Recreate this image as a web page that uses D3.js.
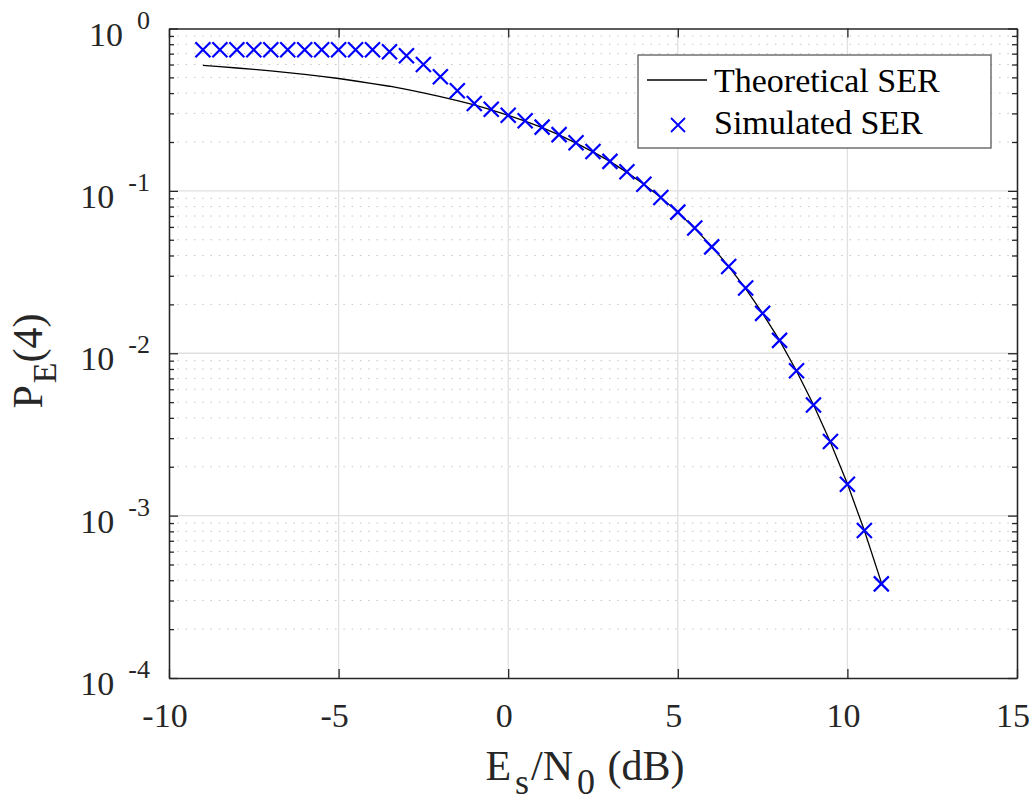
<!DOCTYPE html>
<html>
<head>
<meta charset="utf-8">
<script src="https://cdn.jsdelivr.net/npm/d3@7"></script>
<style>
  body { margin: 0; background: #fff; }
  svg text { font-family: "Liberation Serif", "Times New Roman", serif; fill: #262626; }
</style>
</head>
<body>
<div id="chart"></div>
<script>
// Es/N0 in dB
const snrDb = [-9, -8.5, -8, -7.5, -7, -6.5, -6, -5.5, -5, -4.5, -4, -3.5, -3, -2.5, -2, -1.5, -1, -0.5,
  0, 0.5, 1, 1.5, 2, 2.5, 3, 3.5, 4, 4.5, 5, 5.5, 6, 6.5, 7, 7.5, 8, 8.5, 9, 9.5, 10, 10.5, 11]

const theoreticalSer = [0.592, 0.582, 0.571, 0.560, 0.548, 0.535, 0.521, 0.507, 0.492, 0.475, 0.458,
  0.441, 0.422, 0.402, 0.381, 0.360, 0.338, 0.315, 0.292, 0.2685, 0.245, 0.221, 0.197, 0.174, 0.152,
  0.130, 0.110, 0.091, 0.074, 0.0587, 0.0455, 0.0343, 0.0250, 0.0176, 0.0120, 0.00778, 0.00482,
  0.00283, 0.00157, 0.00081, 0.000388]

const simulatedSer = [0.74, 0.74, 0.74, 0.74, 0.74, 0.74, 0.74, 0.74, 0.74, 0.74, 0.74,
  0.72, 0.68, 0.60, 0.505, 0.414, 0.345, 0.318, 0.292, 0.27, 0.247, 0.222, 0.198, 0.175, 0.152,
  0.131, 0.110, 0.091, 0.074, 0.059, 0.0452, 0.0342, 0.0252, 0.0176, 0.0120, 0.0078, 0.0048,
  0.00286, 0.00156, 0.00081, 0.00038]

const xTicks = [-10, -5, 0, 5, 10, 15]
const yExponents = [0, -1, -2, -3, -4]
const legendLabels = ["Theoretical SER", "Simulated SER"]

const width = 1034
const height = 803
const plotLeft = 169, plotRight = 1017, plotTop = 28.5, plotBottom = 678

const svg = d3.select("#chart")
  .append("svg")
  .attr("width", width)
  .attr("height", height)
  .attr("font-family", "'Liberation Serif', 'Times New Roman', serif")
  .style("background", "#fff")

const x = d3.scaleLinear().domain([-10, 15]).range([plotLeft, plotRight])
const y = d3.scaleLog().domain([1e-4, 1]).range([plotBottom, plotTop])

const yMajor = yExponents.map(e => Math.pow(10, e))
const yMinor = []
yExponents.slice(1).forEach(e => {
  for (let m = 2; m <= 9; m++) yMinor.push(m * Math.pow(10, e))
})

// grid
const grid = svg.append("g")
grid.selectAll(".minor")
  .data(yMinor)
  .enter().append("line")
  .attr("x1", plotLeft).attr("x2", plotRight)
  .attr("y1", d => y(d)).attr("y2", d => y(d))
  .attr("stroke", "#c4c4c4")
  .attr("stroke-width", 1)
  .attr("stroke-dasharray", "1.5,6.8")

grid.selectAll(".majy")
  .data(yMajor.slice(1, -1))
  .enter().append("line")
  .attr("x1", plotLeft).attr("x2", plotRight)
  .attr("y1", d => y(d)).attr("y2", d => y(d))
  .attr("stroke", "#e0e0e0")
  .attr("stroke-width", 1.3)

grid.selectAll(".majx")
  .data(xTicks.slice(1, -1))
  .enter().append("line")
  .attr("x1", d => x(d)).attr("x2", d => x(d))
  .attr("y1", plotTop).attr("y2", plotBottom)
  .attr("stroke", "#e0e0e0")
  .attr("stroke-width", 1.3)

// axes (ticks inward, box on all sides)
const axisColor = "#262626"
function styleAxis(g) {
  g.selectAll("path, line").attr("stroke", axisColor).attr("stroke-width", 1.3)
  g.selectAll("text").remove()
}
svg.append("g").attr("transform", `translate(0,${plotBottom})`)
  .call(d3.axisBottom(x).tickValues(xTicks).tickSizeInner(-9).tickSizeOuter(0).tickFormat(""))
  .call(styleAxis)
svg.append("g").attr("transform", `translate(0,${plotTop})`)
  .call(d3.axisTop(x).tickValues(xTicks).tickSizeInner(-9).tickSizeOuter(0).tickFormat(""))
  .call(styleAxis)
svg.append("g").attr("transform", `translate(${plotLeft},0)`)
  .call(d3.axisLeft(y).tickValues(yMajor).tickSizeInner(-9).tickSizeOuter(0).tickFormat(""))
  .call(styleAxis)
svg.append("g").attr("transform", `translate(${plotLeft},0)`)
  .call(d3.axisLeft(y).tickValues(yMinor).tickSizeInner(-5).tickSizeOuter(0).tickFormat(""))
  .call(styleAxis)
svg.append("g").attr("transform", `translate(${plotRight},0)`)
  .call(d3.axisRight(y).tickValues(yMajor).tickSizeInner(-9).tickSizeOuter(0).tickFormat(""))
  .call(styleAxis)
svg.append("g").attr("transform", `translate(${plotRight},0)`)
  .call(d3.axisRight(y).tickValues(yMinor).tickSizeInner(-5).tickSizeOuter(0).tickFormat(""))
  .call(styleAxis)

// tick labels
svg.append("g").selectAll("text")
  .data(xTicks)
  .enter().append("text")
  .attr("x", d => x(d) - 4)
  .attr("y", 727)
  .attr("text-anchor", "middle")
  .attr("font-size", 34)
  .text(d => d)

const yLab = svg.append("g").selectAll("text")
  .data(yExponents)
  .enter().append("text")
  .attr("x", 150)
  .attr("y", d => y(Math.pow(10, d)) + 17)
  .attr("text-anchor", "end")
  .attr("font-size", 34)
yLab.append("tspan").text("10")
yLab.append("tspan")
  .attr("dx", 14)
  .attr("dy", -17)
  .attr("font-size", 26)
  .text(d => d)

// theoretical line
const line = d3.line()
  .x((d, i) => x(snrDb[i]))
  .y(d => y(d))

svg.append("path")
  .datum(theoreticalSer)
  .attr("d", line)
  .attr("fill", "none")
  .attr("stroke", "#000")
  .attr("stroke-width", 1.3)

// simulated markers
const cross = "M-7.5,-7.5L7.5,7.5M-7.5,7.5L7.5,-7.5"
svg.append("g").selectAll("path")
  .data(simulatedSer)
  .enter().append("path")
  .attr("d", cross)
  .attr("transform", (d, i) => `translate(${x(snrDb[i])},${y(d)})`)
  .attr("stroke", "#0000ff")
  .attr("stroke-width", 2.2)
  .attr("fill", "none")

// axis labels
svg.append("text")
  .attr("x", 585)
  .attr("y", 780)
  .attr("text-anchor", "middle")
  .attr("font-size", 42)
  .call(t => {
    t.append("tspan").text("E")
    t.append("tspan").attr("dx", 4).attr("dy", 14).attr("font-size", 36).text("s")
    t.append("tspan").attr("dx", 2).attr("dy", -14).text("/N")
    t.append("tspan").attr("dx", 4).attr("dy", 14).attr("font-size", 36).text("0")
    t.append("tspan").attr("dx", 2).attr("dy", -14).text(" (dB)")
  })

svg.append("text")
  .attr("transform", "translate(42,361) rotate(-90)")
  .attr("text-anchor", "middle")
  .attr("font-size", 42)
  .call(t => {
    t.append("tspan").text("P")
    t.append("tspan").attr("dx", 2).attr("dy", 14).attr("font-size", 34).text("E")
    t.append("tspan").attr("dy", -14).text("(4)")
  })

// legend
const legend = svg.append("g")
legend.append("rect")
  .attr("x", 638).attr("y", 55)
  .attr("width", 353).attr("height", 93)
  .attr("fill", "#fff")
  .attr("stroke", "#5a5a5a")
  .attr("stroke-width", 1.3)
legend.append("line")
  .attr("x1", 647).attr("x2", 707)
  .attr("y1", 80).attr("y2", 80)
  .attr("stroke", "#000").attr("stroke-width", 1.3)
legend.append("path")
  .attr("d", "M-7,-7L7,7M-7,7L7,-7")
  .attr("transform", "translate(678,125)")
  .attr("stroke", "#0000ff").attr("stroke-width", 1.8).attr("fill", "none")
legend.selectAll(".lt")
  .data(legendLabels)
  .enter().append("text")
  .attr("x", 714)
  .attr("y", (d, i) => 92 + i * 42)
  .attr("font-size", 34)
  .style("fill", "#000")
  .text(d => d)
</script>
</body>
</html>
